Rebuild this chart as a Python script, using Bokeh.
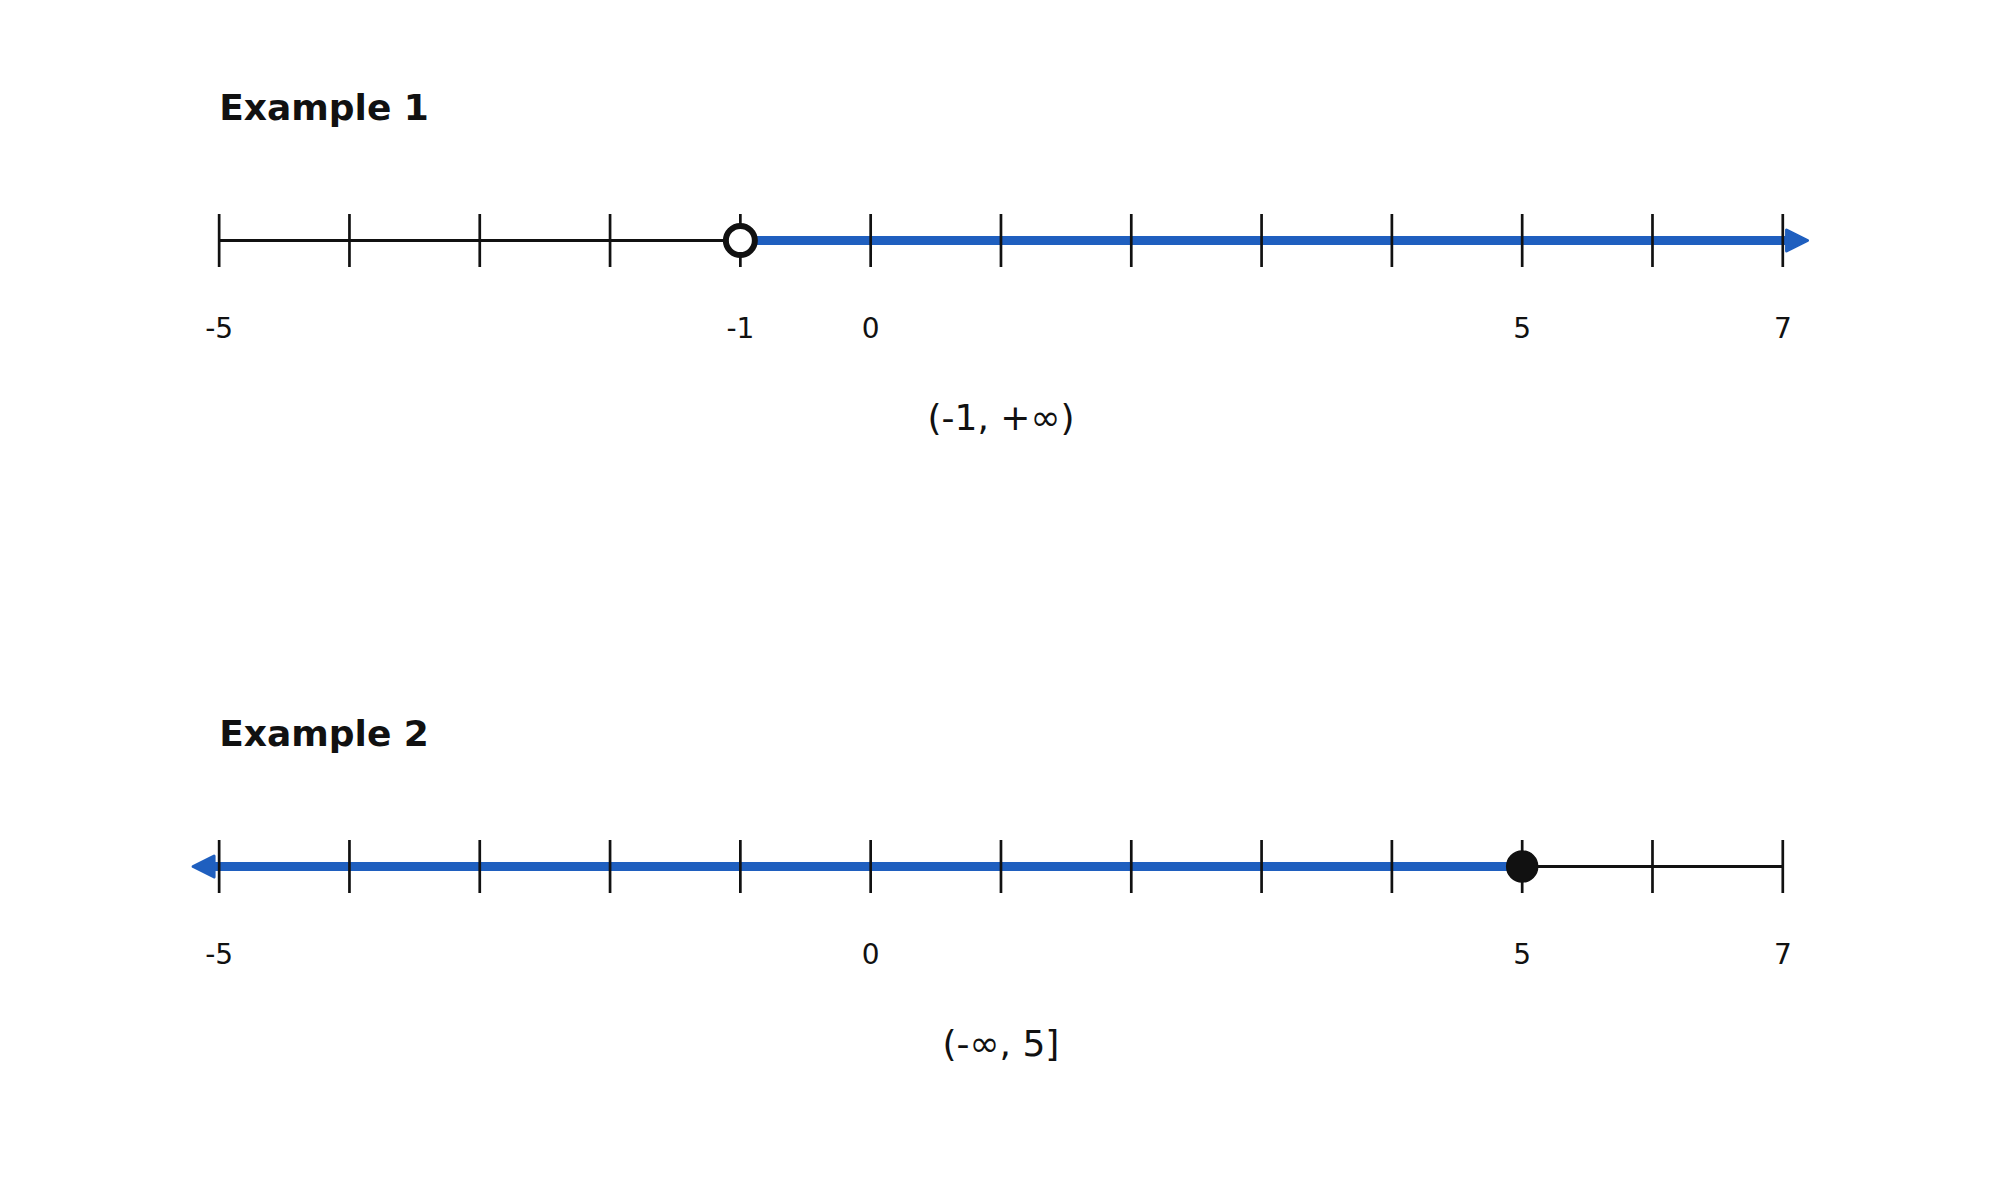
from bokeh.core.properties import value
from bokeh.embed import file_html
from bokeh.models import Arrow, NormalHead, Range1d
from bokeh.plotting import figure
from bokeh.resources import INLINE

# number line ticks
ticks = list(range(-5, 8))

# the two examples
titles = ["Example 1", "Example 2"]
boundaries = [-1, 5]
closed = [False, True]
directions = ["right", "left"]
tick_labels = [[-5, -1, 0, 5, 7],
               [-5, 0, 5, 7]]
notations = ["(-1, +\u221e)", "(-\u221e, 5]"]

BLACK = "#111111"
BLUE = "#1f5fbf"
FONT = value("DejaVu Sans")

# vertical position (pixels from the top) of each number line
LINE_Y = [240, 866]


def plot() -> None:
    p = figure(width=1984, height=1184,
               x_range=Range1d(-6.678, 8.548),
               y_range=Range1d(1184, 0),
               x_axis_location=None,
               y_axis_location=None,
               min_border=0,
               output_backend="svg",
               toolbar_location=None)
    p.grid.visible = False
    p.outline_line_color = None
    p.background_fill_color = "white"
    p.border_fill_color = "white"

    left, right = ticks[0], ticks[-1]
    middle = (left + right) / 2

    for (title, boundary, is_closed, direction,
         labels, notation, line_y) in zip(titles,
                                          boundaries,
                                          closed,
                                          directions,
                                          tick_labels,
                                          notations,
                                          LINE_Y):
        # plain part of the line
        if direction == "right":
            plain = (left, boundary)
            tip = right + 0.19
        else:
            plain = (boundary, right)
            tip = left - 0.2
        p.segment(x0=[plain[0]], y0=[line_y],
                  x1=[plain[1]], y1=[line_y],
                  line_color=BLACK, line_width=3)

        # shaded ray with arrow head
        head = NormalHead(size=21,
                          fill_color=BLUE,
                          line_color=BLUE,
                          line_width=3,
                          line_join="round")
        p.add_layout(Arrow(end=head,
                           x_start=boundary, y_start=line_y,
                           x_end=tip, y_end=line_y,
                           line_color=BLUE, line_width=9,
                           level="underlay"))

        # ticks
        p.segment(x0=ticks, y0=[line_y - 26.5] * len(ticks),
                  x1=ticks, y1=[line_y + 26.5] * len(ticks),
                  line_color=BLACK, line_width=2.7)

        # end point
        if is_closed:
            p.scatter([boundary], [line_y], marker="circle",
                      size=31, fill_color=BLACK,
                      line_color=BLACK, line_width=1.5)
        else:
            p.scatter([boundary], [line_y], marker="circle",
                      size=29, fill_color="white",
                      line_color=BLACK, line_width=6)

        p.text(x=labels, y=[line_y + 87] * len(labels),
               text=[str(v) for v in labels],
               text_font=FONT, text_font_size="28px",
               text_color=BLACK,
               text_align="center", text_baseline="alphabetic")

        p.text(x=[left], y=[line_y - 133.5], text=[title],
               text_font=FONT, text_font_size="36px",
               text_font_style="bold", text_color=BLACK,
               text_align="left", text_baseline="alphabetic")

        p.text(x=[middle], y=[line_y + 177], text=[notation],
               text_font=FONT, text_font_size="36px",
               text_color=BLACK,
               text_align="center", text_baseline="alphabetic")

    open("out.html", "w").write(file_html(p, INLINE))


plot()
